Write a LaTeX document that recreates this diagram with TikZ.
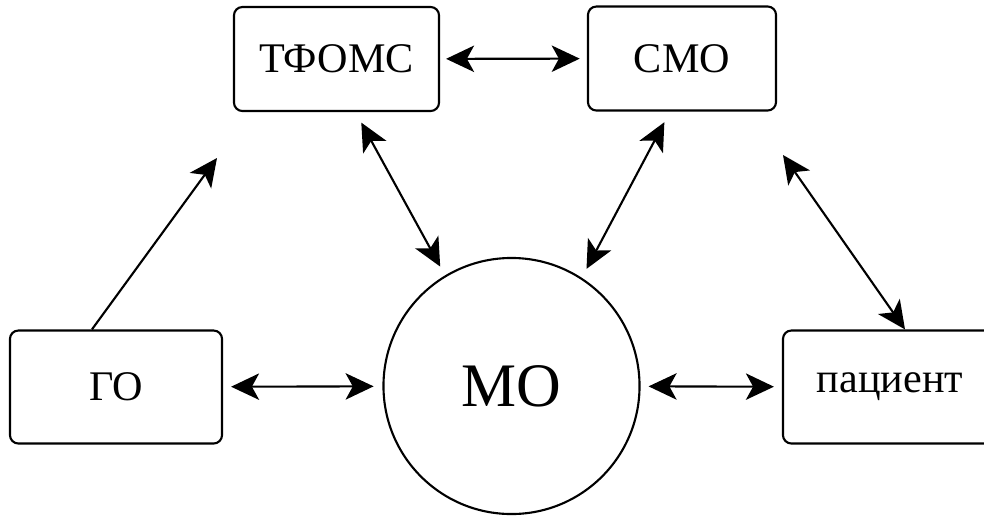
\documentclass[tikz,border=0pt]{standalone}
\usepackage{fontspec}
\setmainfont{Liberation Serif}
\usetikzlibrary{arrows.meta,calc}

\begin{document}
\begin{tikzpicture}[x=0.025cm,y=-0.025cm,line width=1.5pt,
    >={Stealth[length=7mm,width=6.6mm,inset=1.8mm]},
    box/.style={draw,rounded corners=6pt,minimum height=2.6cm,
                font=\fontsize{30}{36}\selectfont,inner sep=2pt},
    hub/.style={draw,circle,minimum size=6.4cm,inner sep=0pt,
                font=\fontsize{44}{50}\selectfont},
    link/.style={<->},
    oneway/.style={->}]

    \useasboundingbox (0,0) rectangle (984,515);

    % boxes and the hub
    \node[box,minimum width=5.125cm] (tfoms) at (336.5,59) {ТФОМС};
    \node[box,minimum width=4.7cm] (smo) at (682,58.5) {СМО};
    \node[box,minimum width=5.3cm,minimum height=2.825cm] (go) at (116,387) {ГО};
    \node[box,minimum width=5.35cm,minimum height=2.825cm] (patient) at (890,387) {пациент};
    \node[hub] (mo) at (511.5,386) {МО};

    % free ends
    \coordinate (gotip) at (217,158);
    \coordinate (smotip) at (783,155);

    % connectors
    \draw[link,shorten <=0.15cm,shorten >=0.18cm] (tfoms) -- (smo);
    \draw[oneway] ([xshift=2.075cm]go.north west) -- (gotip);
    \draw[link,shorten <=0.3cm,shorten >=0.25cm] ([xshift=0.475cm]tfoms.south) -- (mo.121);
    \draw[link,shorten <=0.3cm,shorten >=0.25cm] ([xshift=-0.3cm]smo.south) -- (mo.57);
    \draw[link] (smotip) -- ([xshift=0.375cm]patient.north);
    \draw[link,shorten <=0.2cm,shorten >=0.22cm] (go) -- (mo);
    \draw[link,shorten <=0.2cm,shorten >=0.2cm] (mo) -- (patient);
\end{tikzpicture}
\end{document}
